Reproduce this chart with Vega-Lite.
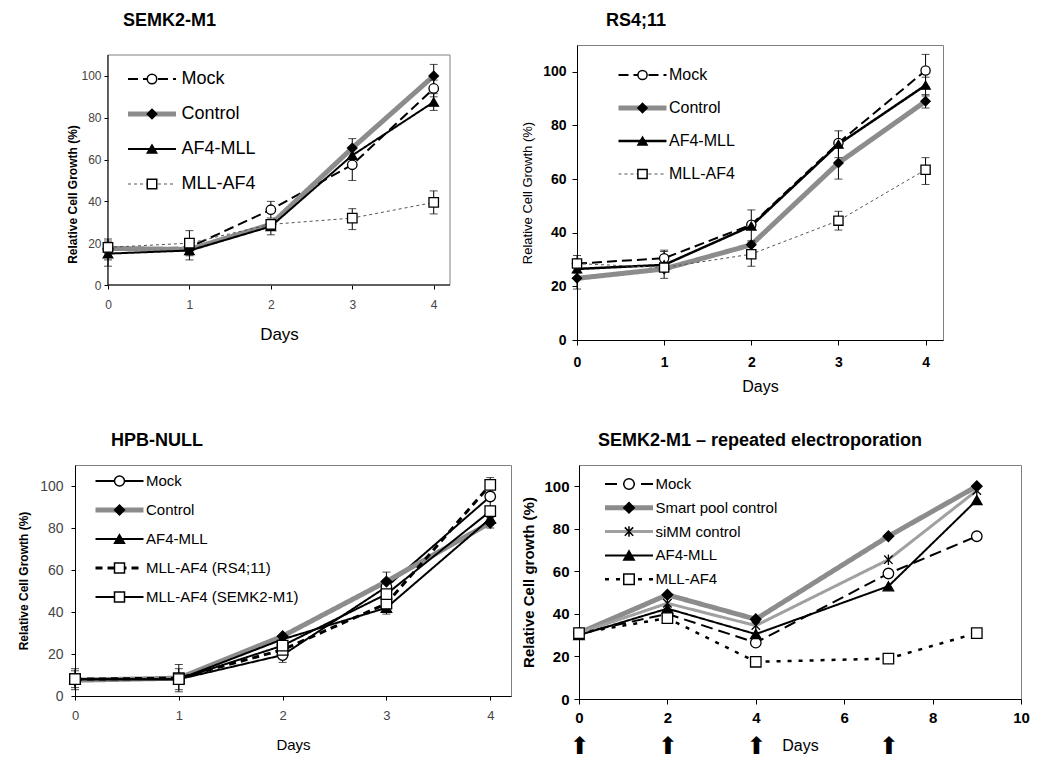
{
  "$schema": "https://vega.github.io/schema/vega-lite/v6.json",
  "padding": {"left": 17, "top": 11, "right": 0, "bottom": 0},
  "config": {
    "font": "Liberation Sans",
    "view": {"stroke": "#808080", "strokeWidth": 1},
    "axis": {"grid": false, "domainColor": "#000", "tickColor": "#000", "labelColor": "#000", "titleColor": "#000"},
    "title": {"fontSize": 18, "fontWeight": "bold", "anchor": "start", "frame": "group", "color": "#000", "offset": 15}
  },
  "resolve": {
    "scale": {"color": "independent", "strokeDash": "independent", "strokeWidth": "independent", "shape": "independent", "fill": "independent"},
    "legend": {"color": "independent", "strokeDash": "independent", "strokeWidth": "independent", "shape": "independent", "fill": "independent"}
  },
  "datasets": {
    "p1": [
      {"s": "Mock", "d": 0, "v": 17, "lo": 12, "hi": 22},
      {"s": "Mock", "d": 1, "v": 18},
      {"s": "Mock", "d": 2, "v": 36, "lo": 32, "hi": 40},
      {"s": "Mock", "d": 3, "v": 57.5, "lo": 50, "hi": 65},
      {"s": "Mock", "d": 4, "v": 94, "lo": 90, "hi": 98},
      {"s": "Control", "d": 0, "v": 17.5},
      {"s": "Control", "d": 1, "v": 17},
      {"s": "Control", "d": 2, "v": 29},
      {"s": "Control", "d": 3, "v": 65.5, "lo": 61, "hi": 70},
      {"s": "Control", "d": 4, "v": 100, "lo": 95, "hi": 105.5},
      {"s": "AF4-MLL", "d": 0, "v": 15, "lo": 9, "hi": 21},
      {"s": "AF4-MLL", "d": 1, "v": 16.5, "lo": 12, "hi": 20},
      {"s": "AF4-MLL", "d": 2, "v": 28, "lo": 24, "hi": 31},
      {"s": "AF4-MLL", "d": 3, "v": 62},
      {"s": "AF4-MLL", "d": 4, "v": 87.5, "lo": 83.5, "hi": 91.5},
      {"s": "MLL-AF4", "d": 0, "v": 18},
      {"s": "MLL-AF4", "d": 1, "v": 20, "lo": 14, "hi": 26},
      {"s": "MLL-AF4", "d": 2, "v": 29},
      {"s": "MLL-AF4", "d": 3, "v": 32, "lo": 26.5, "hi": 36.5},
      {"s": "MLL-AF4", "d": 4, "v": 39.5, "lo": 34, "hi": 45}
    ],
    "p2": [
      {"s": "Mock", "d": 0, "v": 28.5, "lo": 25, "hi": 31.5},
      {"s": "Mock", "d": 1, "v": 30.5, "lo": 27, "hi": 33.5},
      {"s": "Mock", "d": 2, "v": 43},
      {"s": "Mock", "d": 3, "v": 73.5},
      {"s": "Mock", "d": 4, "v": 100.5, "lo": 94.5, "hi": 106.5},
      {"s": "Control", "d": 0, "v": 23, "lo": 19, "hi": 27},
      {"s": "Control", "d": 1, "v": 26.5},
      {"s": "Control", "d": 2, "v": 35.5},
      {"s": "Control", "d": 3, "v": 66, "lo": 60, "hi": 72},
      {"s": "Control", "d": 4, "v": 89, "lo": 86.5, "hi": 91.5},
      {"s": "AF4-MLL", "d": 0, "v": 26.5},
      {"s": "AF4-MLL", "d": 1, "v": 28, "lo": 23, "hi": 33},
      {"s": "AF4-MLL", "d": 2, "v": 42.5, "lo": 37, "hi": 48.5},
      {"s": "AF4-MLL", "d": 3, "v": 73, "lo": 68, "hi": 78},
      {"s": "AF4-MLL", "d": 4, "v": 95, "lo": 91, "hi": 98},
      {"s": "MLL-AF4", "d": 0, "v": 28.5},
      {"s": "MLL-AF4", "d": 1, "v": 27},
      {"s": "MLL-AF4", "d": 2, "v": 32, "lo": 27.5, "hi": 36.5},
      {"s": "MLL-AF4", "d": 3, "v": 44.5, "lo": 41, "hi": 48},
      {"s": "MLL-AF4", "d": 4, "v": 63.5, "lo": 58, "hi": 68}
    ],
    "p3": [
      {"s": "Mock", "d": 0, "v": 8, "lo": 3, "hi": 13},
      {"s": "Mock", "d": 1, "v": 8, "lo": 2, "hi": 15},
      {"s": "Mock", "d": 2, "v": 19.5, "lo": 16, "hi": 23},
      {"s": "Mock", "d": 3, "v": 52},
      {"s": "Mock", "d": 4, "v": 95, "lo": 90, "hi": 100},
      {"s": "Control", "d": 0, "v": 7.5},
      {"s": "Control", "d": 1, "v": 8.5},
      {"s": "Control", "d": 2, "v": 28.5},
      {"s": "Control", "d": 3, "v": 54.5, "lo": 50, "hi": 59},
      {"s": "Control", "d": 4, "v": 82.5, "lo": 80, "hi": 85},
      {"s": "AF4-MLL", "d": 0, "v": 8},
      {"s": "AF4-MLL", "d": 1, "v": 8},
      {"s": "AF4-MLL", "d": 2, "v": 27},
      {"s": "AF4-MLL", "d": 3, "v": 42, "lo": 39, "hi": 45},
      {"s": "AF4-MLL", "d": 4, "v": 84.5},
      {"s": "MLL-AF4 (RS4;11)", "d": 0, "v": 8},
      {"s": "MLL-AF4 (RS4;11)", "d": 1, "v": 8.5},
      {"s": "MLL-AF4 (RS4;11)", "d": 2, "v": 22},
      {"s": "MLL-AF4 (RS4;11)", "d": 3, "v": 44},
      {"s": "MLL-AF4 (RS4;11)", "d": 4, "v": 100.5, "lo": 97, "hi": 104},
      {"s": "MLL-AF4 (SEMK2-M1)", "d": 0, "v": 8, "lo": 4, "hi": 12},
      {"s": "MLL-AF4 (SEMK2-M1)", "d": 1, "v": 8, "lo": 3, "hi": 13},
      {"s": "MLL-AF4 (SEMK2-M1)", "d": 2, "v": 24},
      {"s": "MLL-AF4 (SEMK2-M1)", "d": 3, "v": 48.5},
      {"s": "MLL-AF4 (SEMK2-M1)", "d": 4, "v": 88}
    ],
    "p4": [
      {"s": "Mock", "d": 0, "v": 31},
      {"s": "Mock", "d": 2, "v": 40},
      {"s": "Mock", "d": 4, "v": 26.5},
      {"s": "Mock", "d": 7, "v": 59},
      {"s": "Mock", "d": 9, "v": 76.5},
      {"s": "Smart pool control", "d": 0, "v": 31},
      {"s": "Smart pool control", "d": 2, "v": 49},
      {"s": "Smart pool control", "d": 4, "v": 37.5},
      {"s": "Smart pool control", "d": 7, "v": 76.5},
      {"s": "Smart pool control", "d": 9, "v": 100},
      {"s": "siMM control", "d": 0, "v": 31},
      {"s": "siMM control", "d": 2, "v": 45},
      {"s": "siMM control", "d": 4, "v": 34.5},
      {"s": "siMM control", "d": 7, "v": 65.5},
      {"s": "siMM control", "d": 9, "v": 98},
      {"s": "AF4-MLL", "d": 0, "v": 30},
      {"s": "AF4-MLL", "d": 2, "v": 42.5},
      {"s": "AF4-MLL", "d": 4, "v": 30.5},
      {"s": "AF4-MLL", "d": 7, "v": 53},
      {"s": "AF4-MLL", "d": 9, "v": 93.5},
      {"s": "MLL-AF4", "d": 0, "v": 31},
      {"s": "MLL-AF4", "d": 2, "v": 38},
      {"s": "MLL-AF4", "d": 4, "v": 17.5},
      {"s": "MLL-AF4", "d": 7, "v": 19},
      {"s": "MLL-AF4", "d": 9, "v": 31}
    ]
  },
  "columns": 1,
  "align": "none",
  "spacing": 36,
  "concat": [
    {
      "columns": 2,
      "align": "none",
      "spacing": 70,
      "resolve": {
        "scale": {"color": "independent", "strokeDash": "independent", "strokeWidth": "independent", "shape": "independent", "fill": "independent"},
        "legend": {"color": "independent", "strokeDash": "independent", "strokeWidth": "independent", "shape": "independent", "fill": "independent"}
      },
      "concat": [
        {
          "width": 375, "height": 240,
          "view": {"stroke": null},
          "title": {"text": "SEMK2-M1", "dx": 48},
          "data": {"name": "p1"},
          "layer": [
            {
              "data": {"values": [{}]},
              "mark": {"type": "rect", "filled": false, "color": "#808080", "strokeWidth": 1},
              "encoding": {
                "x": {"datum": 0, "type": "quantitative", "scale": {"domain": [-0.405, 4.2], "nice": false}, "axis": {"values": [0, 1, 2, 3, 4], "format": "d", "domain": false, "title": "Days", "titleX": 204, "titleFontSize": 17, "titleFontWeight": "normal", "titlePadding": 16, "labelFontSize": 12, "labelColor": "#444", "tickSize": 4, "labelPadding": 10, "labelFlush": false}},
                "x2": {"datum": 4.2},
                "y": {"datum": 0, "type": "quantitative", "scale": {"domain": [0, 114.78], "nice": false}, "axis": {"values": [0, 20, 40, 60, 80, 100], "domain": false, "offset": -33, "title": "Relative Cell Growth (%)", "titleFontSize": 12, "titleFontWeight": "bold", "titleAngle": 270, "titleBaseline": "bottom", "titleX": -29, "titleY": 149, "labelFontSize": 12, "labelColor": "#444", "tickSize": 4, "labelPadding": 3}},
                "y2": {"datum": 110}
              }
            },
            {
              "data": {"values": [{}]},
              "mark": {"type": "rule", "color": "black", "strokeWidth": 1},
              "encoding": {"x": {"datum": 0, "type": "quantitative"}, "y": {"datum": 0, "type": "quantitative"}, "y2": {"datum": 110}}
            },
            {
              "data": {"values": [{}]},
              "mark": {"type": "rule", "color": "black", "strokeWidth": 1},
              "encoding": {"x": {"datum": 0, "type": "quantitative"}, "x2": {"datum": 4.2}, "y": {"datum": 0, "type": "quantitative"}}
            },
            {
              "mark": {"type": "line"},
              "encoding": {
                "x": {"field": "d", "type": "quantitative", "title": "Days"},
                "y": {"field": "v", "type": "quantitative", "title": "Relative Cell Growth (%)"},
                "color": {"field": "s", "type": "nominal", "scale": {"domain": ["Mock", "Control", "AF4-MLL", "MLL-AF4"], "range": ["#000000", "#8c8c8c", "#000000", "#555555"]},
                  "legend": {"title": null, "orient": "none", "legendX": 50.5, "legendY": 24, "padding": 0, "symbolSize": 2304, "clipHeight": 20, "labelFontSize": 18, "rowPadding": 15, "labelOffset": 3, "labelLimit": 300}},
                "strokeDash": {"field": "s", "type": "nominal", "scale": {"domain": ["Mock", "Control", "AF4-MLL", "MLL-AF4"], "range": [[10, 5], [1, 0], [1, 0], [3, 3]]},
                  "legend": {"title": null, "orient": "none", "legendX": 50.5, "legendY": 24, "padding": 0, "symbolSize": 2304, "clipHeight": 20, "labelFontSize": 18, "rowPadding": 15, "labelOffset": 3, "labelLimit": 300}},
                "strokeWidth": {"field": "s", "type": "nominal", "scale": {"type": "ordinal", "domain": ["Mock", "Control", "AF4-MLL", "MLL-AF4"], "range": [2, 5, 2, 1]},
                  "legend": {"title": null, "orient": "none", "legendX": 50.5, "legendY": 24, "padding": 0, "symbolSize": 2304, "clipHeight": 20, "labelFontSize": 18, "rowPadding": 15, "labelOffset": 3, "labelLimit": 300}}
              }
            },
            {
              "transform": [{"filter": "isValid(datum.lo)"}],
              "mark": {"type": "errorbar", "ticks": {"size": 8}, "color": "black", "thickness": 1},
              "encoding": {
                "x": {"field": "d", "type": "quantitative", "title": "Days"},
                "y": {"field": "lo", "type": "quantitative", "title": "Relative Cell Growth (%)"},
                "y2": {"field": "hi"}
              }
            },
            {
              "mark": {"type": "point", "filled": true, "stroke": "black", "strokeWidth": 1.3, "size": 90, "opacity": 1},
              "encoding": {
                "x": {"field": "d", "type": "quantitative", "title": "Days"},
                "y": {"field": "v", "type": "quantitative", "title": "Relative Cell Growth (%)"},
                "shape": {"field": "s", "type": "nominal", "scale": {"domain": ["MLL-AF4", "AF4-MLL", "Control", "Mock"], "range": ["square", "triangle-up", "diamond", "circle"]},
                  "legend": {"values": ["Mock", "Control", "AF4-MLL", "MLL-AF4"], "title": null, "orient": "none", "legendX": 50.5, "legendY": 24, "padding": 0, "symbolSize": 90, "symbolOffset": 17.5, "clipHeight": 20, "labelFontSize": 18, "rowPadding": 15, "labelExpr": "''", "labelOpacity": 0, "labelLimit": 300,
                    "encode": {"symbols": {"update": {"stroke": {"value": "black"}, "strokeWidth": {"value": 1.3}}}}}},
                "fill": {"field": "s", "type": "nominal", "scale": {"domain": ["MLL-AF4", "AF4-MLL", "Control", "Mock"], "range": ["white", "black", "black", "white"]},
                  "legend": {"values": ["Mock", "Control", "AF4-MLL", "MLL-AF4"], "title": null, "orient": "none", "legendX": 50.5, "legendY": 24, "padding": 0, "symbolSize": 90, "symbolOffset": 17.5, "clipHeight": 20, "labelFontSize": 18, "rowPadding": 15, "labelExpr": "''", "labelOpacity": 0, "labelLimit": 300,
                    "encode": {"symbols": {"update": {"stroke": {"value": "black"}, "strokeWidth": {"value": 1.3}}}}}}
              }
            }
          ]
        },
        {
          "width": 366, "height": 295,
          "title": {"text": "RS4;11", "dx": 29},
          "data": {"name": "p2"},
          "layer": [
            {
              "mark": {"type": "line"},
              "encoding": {
                "x": {"field": "d", "type": "quantitative", "scale": {"domain": [0, 4.2], "nice": false},
                  "axis": {"values": [0, 1, 2, 3, 4], "format": "d", "title": "Days", "titleFontSize": 16, "titleFontWeight": "normal", "titlePadding": 9, "labelFontSize": 14, "labelFontWeight": "bold", "tickSize": 5, "labelPadding": 10, "labelFlush": false}},
                "y": {"field": "v", "type": "quantitative", "scale": {"domain": [0, 110], "nice": false},
                  "axis": {"values": [0, 20, 40, 60, 80, 100], "title": "Relative Cell Growth (%)", "titleFontSize": 13, "titleFontWeight": "normal", "titlePadding": 8, "labelFontSize": 14, "labelFontWeight": "bold", "tickSize": 5, "labelPadding": 6}},
                "color": {"field": "s", "type": "nominal", "scale": {"domain": ["Mock", "Control", "AF4-MLL", "MLL-AF4"], "range": ["#000000", "#8c8c8c", "#000000", "#555555"]},
                  "legend": {"title": null, "orient": "none", "legendX": 39, "legendY": 20, "padding": 0, "symbolSize": 2304, "clipHeight": 20, "labelFontSize": 16, "rowPadding": 13, "labelOffset": 0, "labelLimit": 300}},
                "strokeDash": {"field": "s", "type": "nominal", "scale": {"domain": ["Mock", "Control", "AF4-MLL", "MLL-AF4"], "range": [[10, 5], [1, 0], [1, 0], [3, 3]]},
                  "legend": {"title": null, "orient": "none", "legendX": 39, "legendY": 20, "padding": 0, "symbolSize": 2304, "clipHeight": 20, "labelFontSize": 16, "rowPadding": 13, "labelOffset": 0, "labelLimit": 300}},
                "strokeWidth": {"field": "s", "type": "nominal", "scale": {"type": "ordinal", "domain": ["Mock", "Control", "AF4-MLL", "MLL-AF4"], "range": [2, 5, 2.5, 1]},
                  "legend": {"title": null, "orient": "none", "legendX": 39, "legendY": 20, "padding": 0, "symbolSize": 2304, "clipHeight": 20, "labelFontSize": 16, "rowPadding": 13, "labelOffset": 0, "labelLimit": 300}}
              }
            },
            {
              "transform": [{"filter": "isValid(datum.lo)"}],
              "mark": {"type": "errorbar", "ticks": {"size": 8}, "color": "black", "thickness": 1},
              "encoding": {
                "x": {"field": "d", "type": "quantitative"},
                "y": {"field": "lo", "type": "quantitative", "title": "Relative Cell Growth (%)"},
                "y2": {"field": "hi"}
              }
            },
            {
              "mark": {"type": "point", "filled": true, "stroke": "black", "strokeWidth": 1.3, "size": 85, "opacity": 1},
              "encoding": {
                "x": {"field": "d", "type": "quantitative"},
                "y": {"field": "v", "type": "quantitative", "title": "Relative Cell Growth (%)"},
                "shape": {"field": "s", "type": "nominal", "scale": {"domain": ["MLL-AF4", "AF4-MLL", "Control", "Mock"], "range": ["square", "triangle-up", "diamond", "circle"]},
                  "legend": {"values": ["Mock", "Control", "AF4-MLL", "MLL-AF4"], "title": null, "orient": "none", "legendX": 39, "legendY": 20, "padding": 0, "symbolSize": 85, "symbolOffset": 18.5, "clipHeight": 20, "labelFontSize": 16, "rowPadding": 13, "labelExpr": "''", "labelOpacity": 0, "labelLimit": 300,
                    "encode": {"symbols": {"update": {"stroke": {"value": "black"}, "strokeWidth": {"value": 1.3}}}}}},
                "fill": {"field": "s", "type": "nominal", "scale": {"domain": ["MLL-AF4", "AF4-MLL", "Control", "Mock"], "range": ["white", "black", "black", "white"]},
                  "legend": {"values": ["Mock", "Control", "AF4-MLL", "MLL-AF4"], "title": null, "orient": "none", "legendX": 39, "legendY": 20, "padding": 0, "symbolSize": 85, "symbolOffset": 18.5, "clipHeight": 20, "labelFontSize": 16, "rowPadding": 13, "labelExpr": "''", "labelOpacity": 0, "labelLimit": 300,
                    "encode": {"symbols": {"update": {"stroke": {"value": "black"}, "strokeWidth": {"value": 1.3}}}}}}
              }
            }
          ]
        }
      ]
    },
    {
      "columns": 2,
      "align": "none",
      "spacing": 9,
      "resolve": {
        "scale": {"color": "independent", "strokeDash": "independent", "strokeWidth": "independent", "shape": "independent", "fill": "independent"},
        "legend": {"color": "independent", "strokeDash": "independent", "strokeWidth": "independent", "shape": "independent", "fill": "independent"}
      },
      "concat": [
        {
          "width": 436, "height": 231,
          "title": {"text": "HPB-NULL", "dx": 36},
          "data": {"name": "p3"},
          "layer": [
            {
              "mark": {"type": "line"},
              "encoding": {
                "x": {"field": "d", "type": "quantitative", "scale": {"domain": [0, 4.2], "nice": false},
                  "axis": {"values": [0, 1, 2, 3, 4], "format": "d", "title": "Days", "titleFontSize": 15, "titleFontWeight": "normal", "titlePadding": 15, "labelFontSize": 13, "labelColor": "#444", "tickSize": 4, "labelPadding": 9, "labelFlush": false}},
                "y": {"field": "v", "type": "quantitative", "scale": {"domain": [0, 110], "nice": false},
                  "axis": {"values": [0, 20, 40, 60, 80, 100], "title": "Relative Cell Growth (%)", "titleFontSize": 12, "titleFontWeight": "bold", "titlePadding": 9, "labelFontSize": 14, "labelColor": "#444", "tickSize": 4, "labelPadding": 8}},
                "color": {"field": "s", "type": "nominal", "scale": {"domain": ["Mock", "Control", "AF4-MLL", "MLL-AF4 (RS4;11)", "MLL-AF4 (SEMK2-M1)"], "range": ["#000000", "#8c8c8c", "#000000", "#000000", "#000000"]},
                  "legend": {"title": null, "orient": "none", "legendX": 18, "legendY": 7, "padding": 0, "symbolSize": 2304, "clipHeight": 18, "labelFontSize": 15, "rowPadding": 11, "labelOffset": 0, "labelLimit": 300}},
                "strokeDash": {"field": "s", "type": "nominal", "scale": {"domain": ["Mock", "Control", "AF4-MLL", "MLL-AF4 (RS4;11)", "MLL-AF4 (SEMK2-M1)"], "range": [[1, 0], [1, 0], [1, 0], [7, 5], [1, 0]]},
                  "legend": {"title": null, "orient": "none", "legendX": 18, "legendY": 7, "padding": 0, "symbolSize": 2304, "clipHeight": 18, "labelFontSize": 15, "rowPadding": 11, "labelOffset": 0, "labelLimit": 300}},
                "strokeWidth": {"field": "s", "type": "nominal", "scale": {"type": "ordinal", "domain": ["Mock", "Control", "AF4-MLL", "MLL-AF4 (RS4;11)", "MLL-AF4 (SEMK2-M1)"], "range": [2, 5, 2, 3, 2]},
                  "legend": {"title": null, "orient": "none", "legendX": 18, "legendY": 7, "padding": 0, "symbolSize": 2304, "clipHeight": 18, "labelFontSize": 15, "rowPadding": 11, "labelOffset": 0, "labelLimit": 300}}
              }
            },
            {
              "transform": [{"filter": "isValid(datum.lo)"}],
              "mark": {"type": "errorbar", "ticks": {"size": 8}, "color": "black", "thickness": 1},
              "encoding": {
                "x": {"field": "d", "type": "quantitative"},
                "y": {"field": "lo", "type": "quantitative", "title": "Relative Cell Growth (%)"},
                "y2": {"field": "hi"}
              }
            },
            {
              "mark": {"type": "point", "filled": true, "stroke": "black", "strokeWidth": 1.3, "size": 110, "opacity": 1},
              "encoding": {
                "x": {"field": "d", "type": "quantitative"},
                "y": {"field": "v", "type": "quantitative", "title": "Relative Cell Growth (%)"},
                "shape": {"field": "s", "type": "nominal", "scale": {"domain": ["MLL-AF4 (SEMK2-M1)", "MLL-AF4 (RS4;11)", "AF4-MLL", "Control", "Mock"], "range": ["square", "square", "triangle-up", "diamond", "circle"]},
                  "legend": {"values": ["Mock", "Control", "AF4-MLL", "MLL-AF4 (RS4;11)", "MLL-AF4 (SEMK2-M1)"], "title": null, "orient": "none", "legendX": 18, "legendY": 7, "padding": 0, "symbolSize": 100, "symbolOffset": 19, "clipHeight": 18, "labelFontSize": 15, "rowPadding": 11, "labelExpr": "''", "labelOpacity": 0, "labelLimit": 300,
                    "encode": {"symbols": {"update": {"stroke": {"value": "black"}, "strokeWidth": {"value": 1.3}}}}}},
                "fill": {"field": "s", "type": "nominal", "scale": {"domain": ["MLL-AF4 (SEMK2-M1)", "MLL-AF4 (RS4;11)", "AF4-MLL", "Control", "Mock"], "range": ["white", "white", "black", "black", "white"]},
                  "legend": {"values": ["Mock", "Control", "AF4-MLL", "MLL-AF4 (RS4;11)", "MLL-AF4 (SEMK2-M1)"], "title": null, "orient": "none", "legendX": 18, "legendY": 7, "padding": 0, "symbolSize": 100, "symbolOffset": 19, "clipHeight": 18, "labelFontSize": 15, "rowPadding": 11, "labelExpr": "''", "labelOpacity": 0, "labelLimit": 300,
                    "encode": {"symbols": {"update": {"stroke": {"value": "black"}, "strokeWidth": {"value": 1.3}}}}}}
              }
            }
          ]
        },
        {
          "width": 442, "height": 234,
          "title": {"text": "SEMK2-M1 – repeated electroporation", "dx": 19},
          "data": {"name": "p4"},
          "resolve": {"axis": {"x": "independent"}},
          "layer": [
            {
              "layer": [
                {
                  "mark": {"type": "line"},
                  "encoding": {
                    "x": {"field": "d", "type": "quantitative", "scale": {"domain": [0, 10], "nice": false},
                      "axis": {"values": [0, 2, 4, 6, 8, 10], "title": "Days", "titleFontSize": 16, "titleFontWeight": "normal", "titlePadding": 12, "labelFontSize": 15, "labelFontWeight": "bold", "tickSize": 5, "labelPadding": 6, "labelFlush": false}},
                    "y": {"field": "v", "type": "quantitative", "scale": {"domain": [0, 110], "nice": false},
                      "axis": {"values": [0, 20, 40, 60, 80, 100], "title": "Relative Cell growth (%)", "titleFontSize": 15, "titleFontWeight": "bold", "titlePadding": 7, "labelFontSize": 15, "labelFontWeight": "bold", "tickSize": 5, "labelPadding": 5}},
                    "color": {"field": "s", "type": "nominal", "scale": {"domain": ["Mock", "Smart pool control", "siMM control", "AF4-MLL", "MLL-AF4"], "range": ["#000000", "#8c8c8c", "#a0a0a0", "#000000", "#000000"]},
                      "legend": {"title": null, "orient": "none", "legendX": 23.5, "legendY": 10, "padding": 0, "symbolSize": 2304, "clipHeight": 18, "labelFontSize": 15, "rowPadding": 5.8, "labelOffset": 0, "labelLimit": 300}},
                    "strokeDash": {"field": "s", "type": "nominal", "scale": {"domain": ["Mock", "Smart pool control", "siMM control", "AF4-MLL", "MLL-AF4"], "range": [[12, 6], [1, 0], [1, 0], [1, 0], [4, 7]]},
                      "legend": {"title": null, "orient": "none", "legendX": 23.5, "legendY": 10, "padding": 0, "symbolSize": 2304, "clipHeight": 18, "labelFontSize": 15, "rowPadding": 5.8, "labelOffset": 0, "labelLimit": 300}},
                    "strokeWidth": {"field": "s", "type": "nominal", "scale": {"type": "ordinal", "domain": ["Mock", "Smart pool control", "siMM control", "AF4-MLL", "MLL-AF4"], "range": [2, 5, 3, 2, 2.5]},
                      "legend": {"title": null, "orient": "none", "legendX": 23.5, "legendY": 10, "padding": 0, "symbolSize": 2304, "clipHeight": 18, "labelFontSize": 15, "rowPadding": 5.8, "labelOffset": 0, "labelLimit": 300}}
                  }
                },
                {
                  "mark": {"type": "point", "filled": true, "stroke": "black", "strokeWidth": 1.3, "size": 110, "opacity": 1},
                  "encoding": {
                    "x": {"field": "d", "type": "quantitative"},
                    "y": {"field": "v", "type": "quantitative", "title": "Relative Cell growth (%)"},
                    "shape": {"field": "s", "type": "nominal", "scale": {"domain": ["MLL-AF4", "AF4-MLL", "siMM control", "Smart pool control", "Mock"], "range": ["square", "triangle-up", "M-0.8,-0.8L0.8,0.8M-0.8,0.8L0.8,-0.8M0,-1L0,1", "diamond", "circle"]},
                      "legend": {"values": ["Mock", "Smart pool control", "siMM control", "AF4-MLL", "MLL-AF4"], "title": null, "orient": "none", "legendX": 23.5, "legendY": 10, "padding": 0, "symbolSize": 110, "symbolOffset": 19, "clipHeight": 18, "labelFontSize": 15, "rowPadding": 5.8, "labelExpr": "''", "labelOpacity": 0, "labelLimit": 300,
                        "encode": {"symbols": {"update": {"stroke": {"value": "black"}, "strokeWidth": {"value": 1.3}}}}}},
                    "fill": {"field": "s", "type": "nominal", "scale": {"domain": ["MLL-AF4", "AF4-MLL", "siMM control", "Smart pool control", "Mock"], "range": ["white", "black", "white", "black", "white"]},
                      "legend": {"values": ["Mock", "Smart pool control", "siMM control", "AF4-MLL", "MLL-AF4"], "title": null, "orient": "none", "legendX": 23.5, "legendY": 10, "padding": 0, "symbolSize": 110, "symbolOffset": 19, "clipHeight": 18, "labelFontSize": 15, "rowPadding": 5.8, "labelExpr": "''", "labelOpacity": 0, "labelLimit": 300,
                        "encode": {"symbols": {"update": {"stroke": {"value": "black"}, "strokeWidth": {"value": 1.3}}}}}}
                  }
                }
              ]
            },
            {
              "mark": {"type": "point", "opacity": 0},
              "encoding": {
                "x": {"field": "d", "type": "quantitative",
                  "axis": {"orient": "bottom", "values": [0, 2, 4, 7], "labelExpr": "'⬆'", "domain": false, "ticks": false, "grid": false, "title": null, "labelFontSize": 24, "labelFont": "DejaVu Sans", "labelPadding": 35, "labelFlush": false, "labelColor": "#000"}}
              }
            }
          ]
        }
      ]
    }
  ]
}
